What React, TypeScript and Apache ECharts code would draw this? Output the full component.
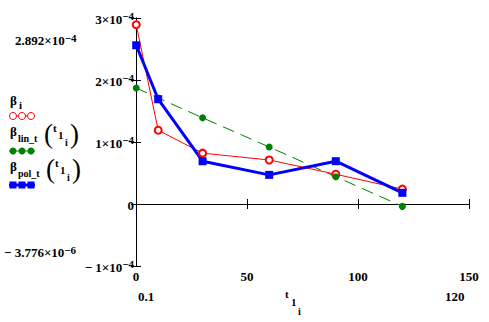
import React, { useEffect, useRef } from "react";
import * as echarts from "echarts";

const tValues = [0.1, 10, 30, 60, 90, 120];
const betaI = [2.892e-4, 1.19e-4, 0.82e-4, 0.71e-4, 0.48e-4, 0.24e-4];
const betaLin = [1.87e-4, 1.71e-4, 1.39e-4, 0.92e-4, 0.44e-4, -0.038e-4];
const betaPol = [2.56e-4, 1.69e-4, 0.69e-4, 0.47e-4, 0.69e-4, 0.18e-4];
const xTicks = [0, 50, 100, 150];
const yTickExp = -4;

const FONT = "'Liberation Serif', 'Times New Roman', serif";

const pairs = (ys: number[]) => tValues.map((t, i) => [t, ys[i]]);

const richBase = {
  b: { fontFamily: FONT, fontWeight: "bold", fontSize: 13, color: "#000", lineHeight: 15, verticalAlign: "bottom" },
  s: { fontFamily: FONT, fontWeight: "bold", fontSize: 11, color: "#000", lineHeight: 11, padding: [0, 0, 8, 0], verticalAlign: "top" },
};

function txt(text: string, x: number, y: number, size = 12, extra: any = {}) {
  return {
    type: "text",
    x,
    y,
    style: { text, fontFamily: FONT, fontWeight: "bold", fontSize: size, fill: "#000", textVerticalAlign: "middle", ...extra },
  };
}

export default function App() {
  const ref = useRef<HTMLDivElement>(null);
  useEffect(() => {
    const chart = echarts.init(ref.current!, null, { renderer: "svg" });
    const legendMarkers: any[] = [];
    const mx = [13, 22, 31];
    legendMarkers.push({ type: "line", shape: { x1: 9, y1: 116, x2: 35, y2: 116 }, style: { stroke: "#ff0000", lineWidth: 1 } });
    mx.forEach((x) => legendMarkers.push({ type: "circle", shape: { cx: x, cy: 116, r: 3.5 }, style: { fill: "#fff", stroke: "#ff0000", lineWidth: 1 } }));
    legendMarkers.push({ type: "line", shape: { x1: 9, y1: 151, x2: 35, y2: 151 }, style: { stroke: "#008000", lineWidth: 1 } });
    mx.forEach((x) => legendMarkers.push({ type: "circle", shape: { cx: x, cy: 151, r: 3.5 }, style: { fill: "#008000" } }));
    legendMarkers.push({ type: "line", shape: { x1: 9, y1: 185, x2: 35, y2: 185 }, style: { stroke: "#0000ff", lineWidth: 3 } });
    mx.forEach((x) => legendMarkers.push({ type: "rect", shape: { x: x - 3.5, y: 181.5, width: 7, height: 7 }, style: { fill: "#0000ff" } }));

    const legendFn = (name: string, y: number, px: number) => [
      txt("\u03b2", 10, y, 13),
      txt(name, 18, y + 7, 10, { textDecoration: "underline" }),
      txt("(", px, y + 3, 27, { fontWeight: "normal" }),
      txt("t", px + 9, y - 3, 11),
      txt("1", px + 14, y + 4, 11),
      txt("i", px + 21, y + 11, 10),
      txt(")", px + 26, y + 3, 27, { fontWeight: "normal" }),
    ];

    const option: any = {
      animation: false,
      backgroundColor: "#fff",
      grid: { left: 136, right: 20, top: 18, height: 248 },
      xAxis: [
        {
          type: "value", min: xTicks[0], max: xTicks[xTicks.length - 1], interval: 50,
          axisLine: { show: true, lineStyle: { color: "#000", width: 1 } },
          axisTick: { show: true, inside: true, length: 5, lineStyle: { color: "#000" } },
          axisLabel: { color: "#000", fontFamily: FONT, fontWeight: "bold", fontSize: 13, margin: 4 },
          splitLine: { show: false },
        },
        {
          type: "value", position: "top", min: 0, max: 150, interval: 50,
          axisLine: { show: true, lineStyle: { color: "#000", width: 1 } },
          axisTick: { show: true, inside: true, length: 5, lineStyle: { color: "#000" } },
          axisLabel: { show: false }, splitLine: { show: false },
        },
      ],
      yAxis: [
        {
          type: "value", min: -1e-4, max: 3e-4, interval: 1e-4,
          axisLine: { show: true, lineStyle: { color: "#000", width: 1 } },
          axisTick: { show: true, inside: true, length: 5, lineStyle: { color: "#000" } },
          axisLabel: {
            margin: 2,
            formatter: (v: number) => {
              const n = Math.round(v / Math.pow(10, yTickExp));
              if (n === 0) return "{b|0}";
              return `{b|${n < 0 ? "\u2212 " : ""}${Math.abs(n)}\u00d710}{s|\u2212${Math.abs(yTickExp)}}`;
            },
            rich: richBase,
          },
          splitLine: { show: false },
        },
        {
          type: "value", position: "right", min: -1e-4, max: 3e-4, interval: 1e-4,
          axisLine: { show: true, lineStyle: { color: "#000", width: 1 } },
          axisTick: { show: true, inside: true, length: 5, lineStyle: { color: "#000" } },
          axisLabel: { show: false }, splitLine: { show: false },
        },
      ],
      series: [
        {
          type: "line", data: pairs(betaI), symbol: "emptyCircle", symbolSize: 7,
          lineStyle: { color: "#ff0000", width: 1 }, itemStyle: { color: "#ff0000", borderColor: "#ff0000", borderWidth: 1 },
        },
        {
          type: "line", data: pairs(betaLin), symbol: "circle", symbolSize: 7,
          lineStyle: { color: "#008000", width: 1, type: [12, 7] }, itemStyle: { color: "#008000" },
        },
        {
          type: "line", data: pairs(betaPol), symbol: "rect", symbolSize: 8,
          lineStyle: { color: "#0000ff", width: 3 }, itemStyle: { color: "#0000ff" },
        },
      ],
      graphic: [
        { type: "text", x: 15, y: 32, style: { text: "{b|2.892\u00d710}{s|\u22124}", rich: richBase } },
        { type: "text", x: 4, y: 244, style: { text: "{b|\u2212 3.776\u00d710}{s|\u22126}", rich: richBase } },
        txt("\u03b2", 10, 100, 13),
        txt("i", 19, 105, 11),
        ...legendFn("lin_t", 131, 44),
        ...legendFn("pol_t", 166, 46),
        ...legendMarkers,
        txt("0.1", 138, 296, 13),
        txt("t", 285, 294, 11),
        txt("1", 291, 302, 11),
        txt("i", 298, 311, 10),
        txt("120", 445, 296, 13),
      ],
    };
    chart.setOption(option);
    return () => chart.dispose();
  }, []);
  return <div ref={ref} style={{ position: "fixed", left: 0, top: 0, width: 489, height: 322 }} />;
}
